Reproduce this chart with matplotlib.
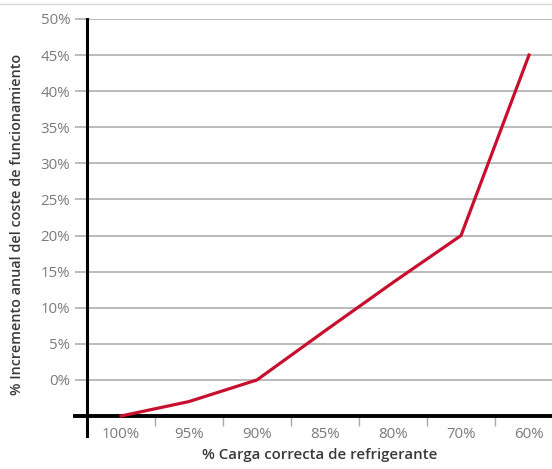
import matplotlib
matplotlib.use("Agg")
import matplotlib.pyplot as plt
from matplotlib.lines import Line2D

# ── DATA ────────────────────────────────────────────────────
carga_labels = ["100%", "95%", "90%", "85%", "80%", "70%", "60%"]
incremento = [-5, -3, 0, 6.8, 13.5, 20, 45]   # % increase in annual running cost
y_ticks = [0, 5, 10, 15, 20, 25, 30, 35, 40, 45, 50]

plt.rcParams["font.family"] = ["Open Sans", "DejaVu Sans"]

fig = plt.figure(figsize=(5.52, 4.69), dpi=100)
ax = fig.add_axes([0.1576, 0.113, 0.8424, 0.8465])

x = list(range(len(carga_labels)))
ax.plot(x, incremento, color="#c8102e", linewidth=2.3, solid_joinstyle="miter",
        clip_on=False, zorder=5)

ax.set_ylim(-5, 50)
ax.set_xlim(-0.5, -0.5 + 465 / 68)

# gridlines with outside ticks
ax.set_yticks(y_ticks)
ax.set_yticklabels([f"{v}%" for v in y_ticks])
ax.yaxis.grid(True, color="#a8a8a8", linewidth=1.1)
ax.tick_params(axis="y", length=9, width=1.1, color="#a8a8a8", pad=3,
               labelsize=10.8, labelcolor="#7a7a7a")

# category boundaries as ticks, names centred between them
ax.set_xticks([i + 0.5 for i in range(len(carga_labels) - 1)])
ax.set_xticklabels([])
ax.set_xticks(x, minor=True)
ax.set_xticklabels(carga_labels, minor=True)
ax.tick_params(axis="x", which="major", length=7, width=1, color="#a8a8a8")
ax.tick_params(axis="x", which="minor", length=0, pad=8,
               labelsize=10.8, labelcolor="#7a7a7a")

for s in ax.spines.values():
    s.set_visible(False)

# axis lines, extended a little past the corner
ax.plot([0, 0], [-0.05, 1.0], transform=ax.transAxes, color="black",
        linewidth=2.2, clip_on=False, zorder=4)
ax.plot([-0.026, 1.0], [0, 0], transform=ax.transAxes, color="black",
        linewidth=2.8, clip_on=False, zorder=4)

ax.set_ylabel("% Incremento anual del coste de funcionamiento", fontsize=10.4,
              fontweight="semibold", color="#3a3a3a")
ax.yaxis.set_label_coords(-0.136, 0.482)
ax.set_xlabel("% Carga correcta de refrigerante", fontsize=10.8,
              fontweight="semibold", color="#3a3a3a", labelpad=4)

# thin rule along the top of the figure
fig.add_artist(Line2D([0, 1], [1 - 4.5 / 469] * 2, transform=fig.transFigure,
                      color="#d8d8d8", linewidth=1))

fig.savefig("out.png", dpi=100)
